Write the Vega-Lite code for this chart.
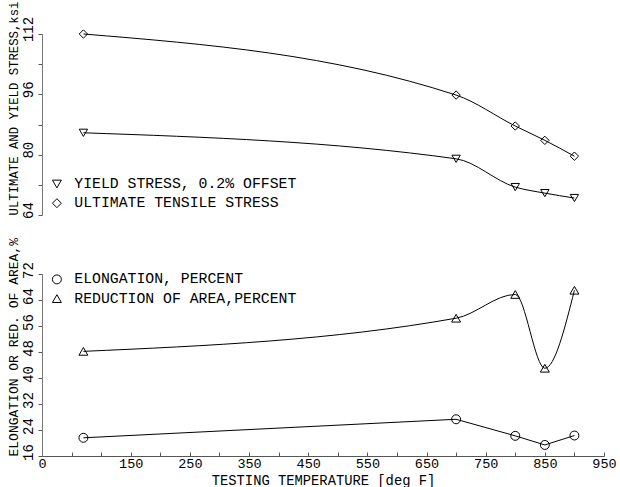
{
  "$schema": "https://vega.github.io/schema/vega-lite/v6.json",
  "autosize": {"type": "pad"},
  "padding": {"left": 7, "top": 0, "right": 0, "bottom": 0},
  "background": "white",
  "bounds": "flush",
  "spacing": 59,
  "config": {
    "font": "Liberation Mono",
    "view": {"stroke": null},
    "axis": {
      "grid": false,
      "labelFont": "Liberation Mono",
      "labelFontSize": 14,
      "labelColor": "black",
      "titleFont": "Liberation Mono",
      "titleFontWeight": "normal",
      "titleColor": "black",
      "domainColor": "#555",
      "tickColor": "#555"
    },
    "legend": {
      "orient": "none",
      "title": null,
      "labelFont": "Liberation Mono",
      "labelFontSize": 14.8,
      "labelColor": "black",
      "labelLimit": 0,
      "symbolStrokeColor": "black",
      "symbolStrokeWidth": 1,
      "symbolSize": 80,
      "symbolFillColor": "transparent",
      "labelOffset": 10,
      "rowPadding": 3.2
    }
  },
  "datasets": {
    "stress": [
      {"temp": 70, "value": 85.8, "series": "YIELD STRESS, 0.2% OFFSET"},
      {"temp": 700, "value": 78.9, "series": "YIELD STRESS, 0.2% OFFSET"},
      {"temp": 800, "value": 71.4, "series": "YIELD STRESS, 0.2% OFFSET"},
      {"temp": 850, "value": 69.8, "series": "YIELD STRESS, 0.2% OFFSET"},
      {"temp": 900, "value": 68.5, "series": "YIELD STRESS, 0.2% OFFSET"},
      {"temp": 70, "value": 112, "series": "ULTIMATE TENSILE STRESS"},
      {"temp": 700, "value": 95.8, "series": "ULTIMATE TENSILE STRESS"},
      {"temp": 800, "value": 87.6, "series": "ULTIMATE TENSILE STRESS"},
      {"temp": 850, "value": 83.8, "series": "ULTIMATE TENSILE STRESS"},
      {"temp": 900, "value": 79.6, "series": "ULTIMATE TENSILE STRESS"}
    ],
    "ductility": [
      {"temp": 70, "value": 21.6, "series": "ELONGATION, PERCENT"},
      {"temp": 700, "value": 27.3, "series": "ELONGATION, PERCENT"},
      {"temp": 800, "value": 22.2, "series": "ELONGATION, PERCENT"},
      {"temp": 850, "value": 19.4, "series": "ELONGATION, PERCENT"},
      {"temp": 900, "value": 22.3, "series": "ELONGATION, PERCENT"},
      {"temp": 70, "value": 48.2, "series": "REDUCTION OF AREA,PERCENT"},
      {"temp": 700, "value": 58.4, "series": "REDUCTION OF AREA,PERCENT"},
      {"temp": 800, "value": 65.7, "series": "REDUCTION OF AREA,PERCENT"},
      {"temp": 850, "value": 43.0, "series": "REDUCTION OF AREA,PERCENT"},
      {"temp": 900, "value": 67.0, "series": "REDUCTION OF AREA,PERCENT"}
    ]
  },
  "vconcat": [
    {
      "width": 562,
      "height": 181,
      "data": {"name": "stress"},
      "encoding": {
        "x": {"field": "temp", "type": "quantitative", "scale": {"domain": [0, 950], "nice": false}, "axis": null},
        "y": {
          "field": "value", "type": "quantitative",
          "scale": {"domain": [64, 112], "nice": false, "zero": false},
          "axis": {
            "title": "ULTIMATE AND YIELD STRESS,ksi",
            "titleFontSize": 12.3,
            "titleAngle": -90,
            "titleAlign": "left",
            "titleBaseline": "bottom",
            "titleX": -22,
            "titleY": 181,
            "values": [64, 72, 80, 88, 96, 104, 112],
            "labelExpr": "datum.value % 16 == 0 ? datum.label : ''",
            "labelAngle": -90,
            "labelAlign": "center",
            "labelBaseline": "bottom",
            "labelOffset": -5,
            "tickSize": 4,
            "labelPadding": 3,
            "domainColor": "#777"
          }
        }
      },
      "layer": [
        {
          "mark": {"type": "line", "interpolate": "monotone", "color": "black", "strokeWidth": 1},
          "encoding": {"detail": {"field": "series", "type": "nominal"}}
        },
        {
          "mark": {"type": "point", "filled": false, "color": "black", "size": 70, "strokeWidth": 1, "opacity": 1},
          "encoding": {
            "shape": {
              "field": "series", "type": "nominal",
              "scale": {"domain": ["YIELD STRESS, 0.2% OFFSET", "ULTIMATE TENSILE STRESS"], "range": ["triangle-down", "diamond"]},
              "legend": {"orient": "none", "legendX": 7.5, "legendY": 142.6}
            }
          }
        }
      ]
    },
    {
      "width": 562,
      "height": 182,
      "data": {"name": "ductility"},
      "encoding": {
        "x": {
          "field": "temp", "type": "quantitative",
          "scale": {"domain": [0, 950], "nice": false},
          "axis": {
            "title": "TESTING TEMPERATURE [deg F]",
            "titleFontSize": 13.8,
            "titleBaseline": "alphabetic",
            "titleY": 28,
            "values": [0, 50, 100, 150, 200, 250, 300, 350, 400, 450, 500, 550, 600, 650, 700, 750, 800, 850, 900, 950],
            "labelExpr": "(datum.value == 0 || (datum.value % 100 == 50 && datum.value > 100)) ? datum.label : ''",
            "labelFlush": false,
            "labelOverlap": false,
            "labelFontSize": 13.5,
            "tickSize": -4,
            "labelPadding": 4
          }
        },
        "y": {
          "field": "value", "type": "quantitative",
          "scale": {"domain": [16, 72], "nice": false, "zero": false},
          "axis": {
            "title": "ELONGATION OR RED. OF AREA,%",
            "titleFontSize": 13,
            "titleAngle": -90,
            "titleAlign": "left",
            "titleBaseline": "bottom",
            "titleX": -22,
            "titleY": 182,
            "values": [16, 24, 32, 40, 48, 56, 64, 72],
            "labelAngle": -90,
            "labelAlign": "center",
            "labelBaseline": "bottom",
            "labelOffset": -4,
            "tickSize": 4,
            "labelPadding": 3,
            "labelOverlap": false,
            "domainColor": "#777"
          }
        }
      },
      "layer": [
        {
          "transform": [{"filter": "datum.series == 'REDUCTION OF AREA,PERCENT'"}],
          "mark": {"type": "line", "interpolate": "monotone", "color": "black", "strokeWidth": 1},
          "encoding": {}
        },
        {
          "transform": [{"filter": "datum.series == 'ELONGATION, PERCENT'"}],
          "mark": {"type": "line", "interpolate": "linear", "color": "black", "strokeWidth": 1},
          "encoding": {}
        },
        {
          "mark": {"type": "point", "filled": false, "color": "black", "size": 80, "strokeWidth": 1, "opacity": 1},
          "encoding": {
            "shape": {
              "field": "series", "type": "nominal",
              "scale": {"domain": ["ELONGATION, PERCENT", "REDUCTION OF AREA,PERCENT"], "range": ["circle", "triangle-up"]},
              "legend": {"orient": "none", "legendX": 7.5, "legendY": -2}
            }
          }
        }
      ]
    }
  ],
  "resolve": {"scale": {"shape": "independent"}, "legend": {"shape": "independent"}}
}
